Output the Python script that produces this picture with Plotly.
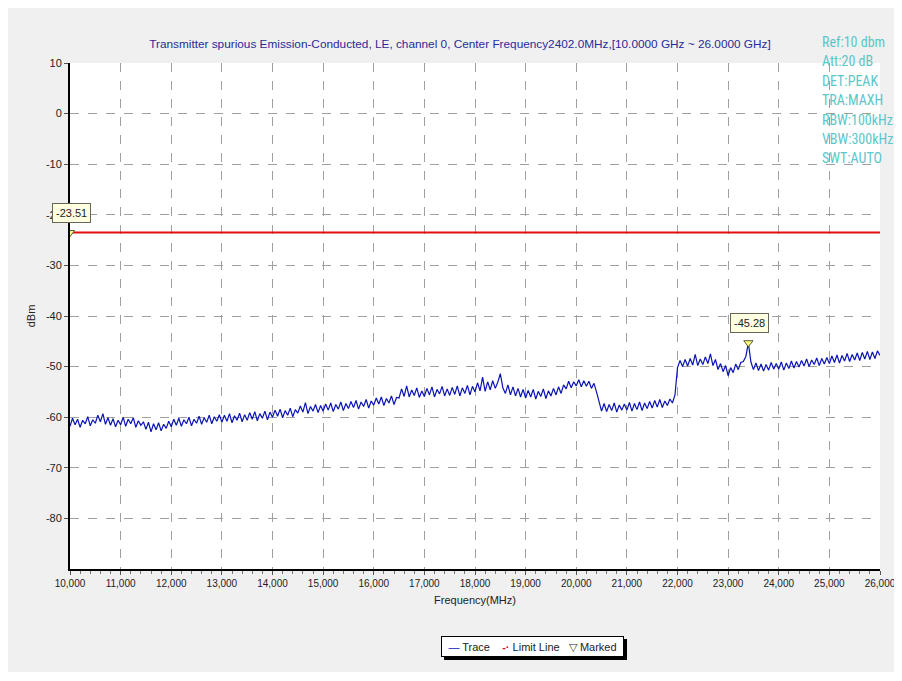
import plotly.graph_objects as go

# ---------------- data ----------------
freq_start = 10000
freq_step = 50
trace_dbm = [
    -61.8, -60.2, -61.5, -60.4, -62.0, -60.6, -61.3, -59.9, -61.7, -60.5,
    -61.2, -59.6, -60.9, -59.3, -61.4, -60.1, -61.6, -60.3, -61.9, -60.6,
    -61.5, -60.0, -61.8, -60.4, -61.3, -60.1, -62.0, -60.7, -61.6, -60.9,
    -62.4, -61.0, -62.9, -61.3, -62.5, -61.1, -62.7, -61.4, -62.2, -60.8,
    -61.9, -60.4, -61.6, -60.2, -61.8, -60.5, -61.3, -60.0, -61.7, -60.4,
    -61.2, -59.8, -61.4, -60.1, -61.0, -59.6, -61.3, -59.9, -60.8, -59.5,
    -61.0, -59.6, -60.8, -59.3, -61.1, -59.7, -60.6, -59.2, -60.9, -59.5,
    -60.6, -59.1, -60.4, -58.9, -60.7, -59.3, -60.2, -58.8, -60.5, -59.0,
    -60.0, -58.6, -59.8, -58.4, -60.1, -58.7, -59.6, -58.2, -59.9, -58.5,
    -59.2, -57.8, -59.0, -57.1, -59.3, -57.9, -58.8, -57.5, -59.1, -57.7,
    -58.8, -57.4, -58.6, -57.2, -58.9, -57.5, -58.4, -57.0, -58.7, -57.3,
    -58.3, -56.9, -58.1, -56.7, -58.4, -57.0, -57.9, -56.5, -58.2, -56.8,
    -57.6, -56.2, -57.4, -56.0, -57.7, -56.3, -57.2, -55.8, -57.5, -56.1,
    -56.2, -54.4, -55.9, -53.8, -56.0, -54.6, -55.7, -54.2, -56.1, -54.8,
    -55.9, -54.3, -55.6, -54.0, -56.0, -54.5, -55.4, -53.9, -55.8, -54.4,
    -55.7, -54.1, -55.5, -53.8, -55.8, -54.2, -55.3, -53.7, -55.6, -53.9,
    -55.0, -53.2, -54.8, -52.1, -54.9, -53.0, -54.6, -52.8, -54.3, -53.1,
    -51.4, -54.2, -55.3, -53.6, -55.6, -54.0, -55.8, -54.3, -56.0, -54.5,
    -56.2, -54.7, -56.0, -54.5, -56.4, -54.9, -55.9, -54.4, -56.3, -54.8,
    -55.8, -54.3, -55.6, -54.0, -55.3, -53.6, -54.4, -52.9, -54.2, -53.0,
    -53.8, -52.6, -54.0, -52.8, -53.9, -52.9, -54.3, -53.3, -55.0, -56.9,
    -58.8, -57.3, -58.9, -57.5, -58.7, -57.2, -59.0, -57.6, -58.6, -57.4,
    -58.6, -57.1, -58.8, -57.3, -58.5, -57.0, -58.7, -57.2, -58.3, -56.9,
    -58.2, -56.7, -58.0, -56.5, -58.1, -56.8, -57.7, -56.4, -57.2, -55.6,
    -50.2, -48.8, -50.0, -48.6, -49.9, -48.4, -49.7, -47.6, -49.8, -48.5,
    -49.6, -48.1, -49.4, -47.5, -49.8, -48.6, -50.6, -49.4, -51.0, -49.8,
    -51.8, -50.2, -51.2, -49.5, -50.6, -49.2, -49.0, -48.0, -45.3, -49.1,
    -50.6, -49.3, -50.8, -49.5, -50.9, -49.6, -50.7, -49.2, -50.5, -49.4,
    -50.5, -49.1, -50.7, -49.3, -50.4, -48.9, -50.3, -49.0, -50.1, -48.8,
    -49.9, -48.5, -50.0, -48.7, -49.6, -48.3, -49.8, -48.4, -49.5, -48.2,
    -49.4, -47.9, -49.2, -47.7, -49.3, -47.8, -48.9, -47.4, -49.0, -47.6,
    -48.7, -47.3, -48.8, -47.2, -48.5, -47.0, -48.6, -47.1, -48.4, -46.9,
    -47.8,
]
trace_freq = [freq_start + i * freq_step for i in range(len(trace_dbm))]

limit_freq = [10000, 26000]
limit_dbm = [-23.51, -23.51]

marker_freq = [10000, 23400]
marker_dbm = [-23.51, -45.28]
marker_labels = ["-23.51", "-45.28"]

x_ticks = list(range(10000, 26001, 1000))
x_ticktext = [f"{v:,}" for v in x_ticks]
y_ticks = list(range(-80, 11, 10))
y_ticktext = [str(v) for v in y_ticks]

title_text = ("Transmitter spurious Emission-Conducted, LE, channel 0, "
              "Center Frequency2402.0MHz,[10.0000 GHz ~ 26.0000 GHz]")
info_lines = ["Ref:10 dbm", "Att:20 dB", "DET:PEAK", "TRA:MAXH",
              "RBW:100kHz", "VBW:300kHz", "SWT:AUTO"]
legend_names = ["Trace", "Limit Line", "Marked"]

FONT = "Liberation Sans, Arial, sans-serif"
NARROW = "Liberation Sans Narrow, Arial Narrow, Roboto Condensed, sans-serif"
TRACE_COLOR = "#0a14b4"
LIMIT_COLOR = "#e01010"

# page-pixel helpers for the plot area (70..880 x, 63..569 y)
PL, PR, PT, PB = 70, 880, 63, 569

def px_x(p):
    return (p - PL) / (PR - PL)

def px_y(p):
    return (PB - p) / (PB - PT)

# ---------------- figure ----------------
fig = go.Figure()

fig.add_trace(go.Scatter(
    x=trace_freq, y=trace_dbm, mode="lines", name=legend_names[0],
    line=dict(color=TRACE_COLOR, width=1.2)))

fig.add_trace(go.Scatter(
    x=limit_freq, y=limit_dbm, mode="lines", name=legend_names[1],
    line=dict(color=LIMIT_COLOR, width=2)))

fig.add_trace(go.Scatter(
    x=marker_freq, y=marker_dbm, mode="markers", name=legend_names[2],
    marker=dict(symbol="triangle-down", size=8, color="#ffff80",
                line=dict(color="#555533", width=1))))

for fx, fy, lab in zip(marker_freq, marker_dbm, marker_labels):
    fig.add_annotation(x=fx, y=fy, xref="x", yref="y", text=lab,
                       showarrow=False, yshift=20, xshift=1,
                       font=dict(family=FONT, size=11, color="#222222"),
                       bgcolor="#ffffe1", bordercolor="#666655",
                       borderwidth=1, borderpad=3)

for i, line in enumerate(info_lines):
    fig.add_annotation(x=px_x(820), y=px_y(42 + i * 19.4),
                       xref="paper", yref="paper", xanchor="left",
                       yanchor="middle", text=line, showarrow=False,
                       font=dict(family=NARROW, size=14, color="#5cc6c8"))

# legend box: drop shadow shape + annotation text
fig.add_shape(type="rect", xref="paper", yref="paper",
              x0=px_x(444), x1=px_x(627), y0=px_y(660), y1=px_y(639),
              fillcolor="#000000", line=dict(width=0), layer="above")
legend_rich = (f"<span style='color:{TRACE_COLOR}'>\u2014</span> {legend_names[0]}"
               f"    <span style='color:{LIMIT_COLOR}'><b>-\u00b7</b></span> {legend_names[1]}"
               f"   <span style='color:#333300'>\u25bd</span> {legend_names[2]}")
fig.add_annotation(x=px_x(532.5), y=px_y(646.5), xref="paper", yref="paper",
                   xanchor="center", yanchor="middle", showarrow=False,
                   text=legend_rich, width=177, height=15,
                   font=dict(family=FONT, size=11, color="#222222"),
                   bgcolor="#ffffff", bordercolor="#000000", borderwidth=1,
                   borderpad=2)

FIG_W, FIG_H = 886, 664
fig.update_layout(
    width=FIG_W, height=FIG_H,
    margin=dict(l=PL - 8, r=FIG_W + 8 - PR, t=PT - 8, b=FIG_H + 8 - PB),
    paper_bgcolor="#f0f0f0",
    plot_bgcolor="#ffffff",
    font=dict(family=FONT, size=11, color="#222222"),
    title=dict(text=title_text, x=px_x(460), xref="paper", xanchor="center",
               y=1 - 36 / FIG_H, yref="container", yanchor="middle",
               font=dict(family=FONT, size=11.8, color="#2a2a9a")),
    showlegend=False,
)

fig.update_xaxes(
    range=[10000, 26000], tickvals=x_ticks, ticktext=x_ticktext,
    ticklabeloverflow="allow", automargin=False,
    showgrid=True, gridcolor="#a0a0a0", griddash="dash", gridwidth=1,
    showline=True, linecolor="#000000", linewidth=2,
    ticks="outside", ticklen=4, tickcolor="#555555",
    minor=dict(dtick=200, ticks="outside", ticklen=3, tickcolor="#777777",
               showgrid=False),
    zeroline=False,
    title=dict(text="Frequency(MHz)", standoff=8,
               font=dict(family=FONT, size=11, color="#222222")),
    tickfont=dict(family=FONT, size=10, color="#222222"),
)
fig.update_yaxes(
    range=[-90, 10], tickvals=y_ticks, ticktext=y_ticktext,
    automargin=False,
    showgrid=True, gridcolor="#a0a0a0", griddash="dash", gridwidth=1,
    showline=True, linecolor="#000000", linewidth=2,
    ticks="outside", ticklen=4, tickcolor="#555555",
    zeroline=False,
    title=dict(text="dBm", standoff=8,
               font=dict(family=FONT, size=11, color="#222222")),
    tickfont=dict(family=FONT, size=11, color="#222222"),
)

fig.write_html("out.html")
